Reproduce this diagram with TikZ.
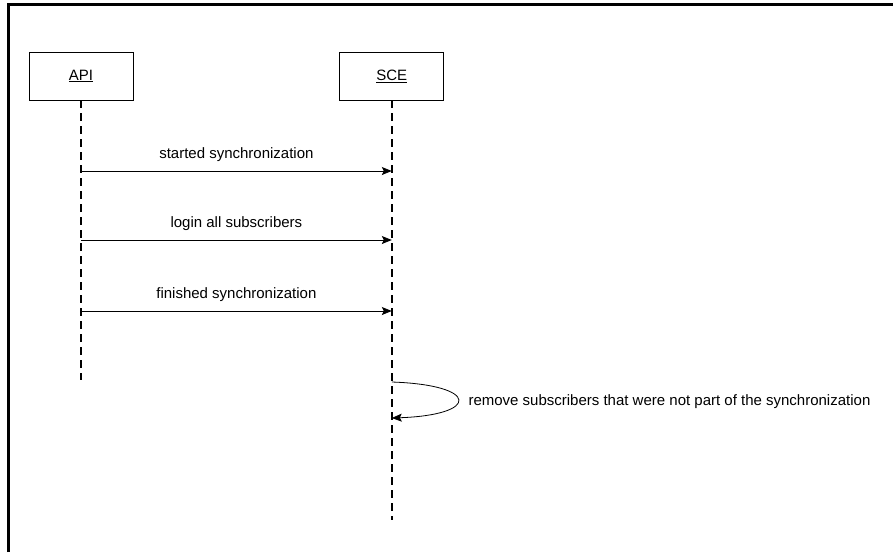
\documentclass[tikz,border=0pt]{standalone}
\usepackage{fontspec}
\setmainfont{Liberation Sans}
\usetikzlibrary{arrows.meta,positioning}

\begin{document}
\begin{tikzpicture}[x=1pt,y=-1pt,>={Stealth[length=10pt,width=8pt,inset=2pt]},
  obj node/.style={rectangle,draw,line width=0.8pt,
  minimum width=104pt,minimum height=48pt,
  font=\fontsize{15}{18}\selectfont},
  life line/.style={line width=2.2pt,dash pattern=on 8pt off 5pt},
  msg/.style={->,line width=0.8pt},
  msg label/.style={font=\fontsize{15}{18}\selectfont}]

  \useasboundingbox (0,0) rectangle (893,552);
  \draw[line width=3pt] (8,552) -- (8,4) -- (893,4);

  \node[obj node] (API) at (81,76)          {\underline{API}};
  \node[obj node] (SCE) [right=206pt of API] {\underline{SCE}};

  \coordinate (APIend) at (API.south |- 0,380);
  \coordinate (SCEend) at (SCE.south |- 0,520);
  \draw[life line] (API) -- (APIend);
  \draw[life line] (SCE) -- (SCEend);

  % messages
  \coordinate (a1) at (API.south |- 0,171);
  \coordinate (s1) at (SCE.south |- 0,171);
  \coordinate (a2) at (API.south |- 0,240);
  \coordinate (s2) at (SCE.south |- 0,240);
  \coordinate (a3) at (API.south |- 0,311);
  \coordinate (s3) at (SCE.south |- 0,311);
  \coordinate (s4) at (SCE.south |- 0,382);
  \coordinate (s5) at (SCE.south |- 0,418);

  \path[every node/.style={msg label,above=6pt}]
    (a1) edge[msg] node {started synchronization} (s1)
    (a2) edge[msg] node {login all subscribers} (s2)
    (a3) edge[msg] node {finished synchronization} (s3);

  \draw[msg] (s4) .. controls (480,385) and (480,415) .. (s5);
  \node[msg label,anchor=west] (self) at (465,402)
    {remove subscribers that were not part of the synchronization};

\end{tikzpicture}
\end{document}
